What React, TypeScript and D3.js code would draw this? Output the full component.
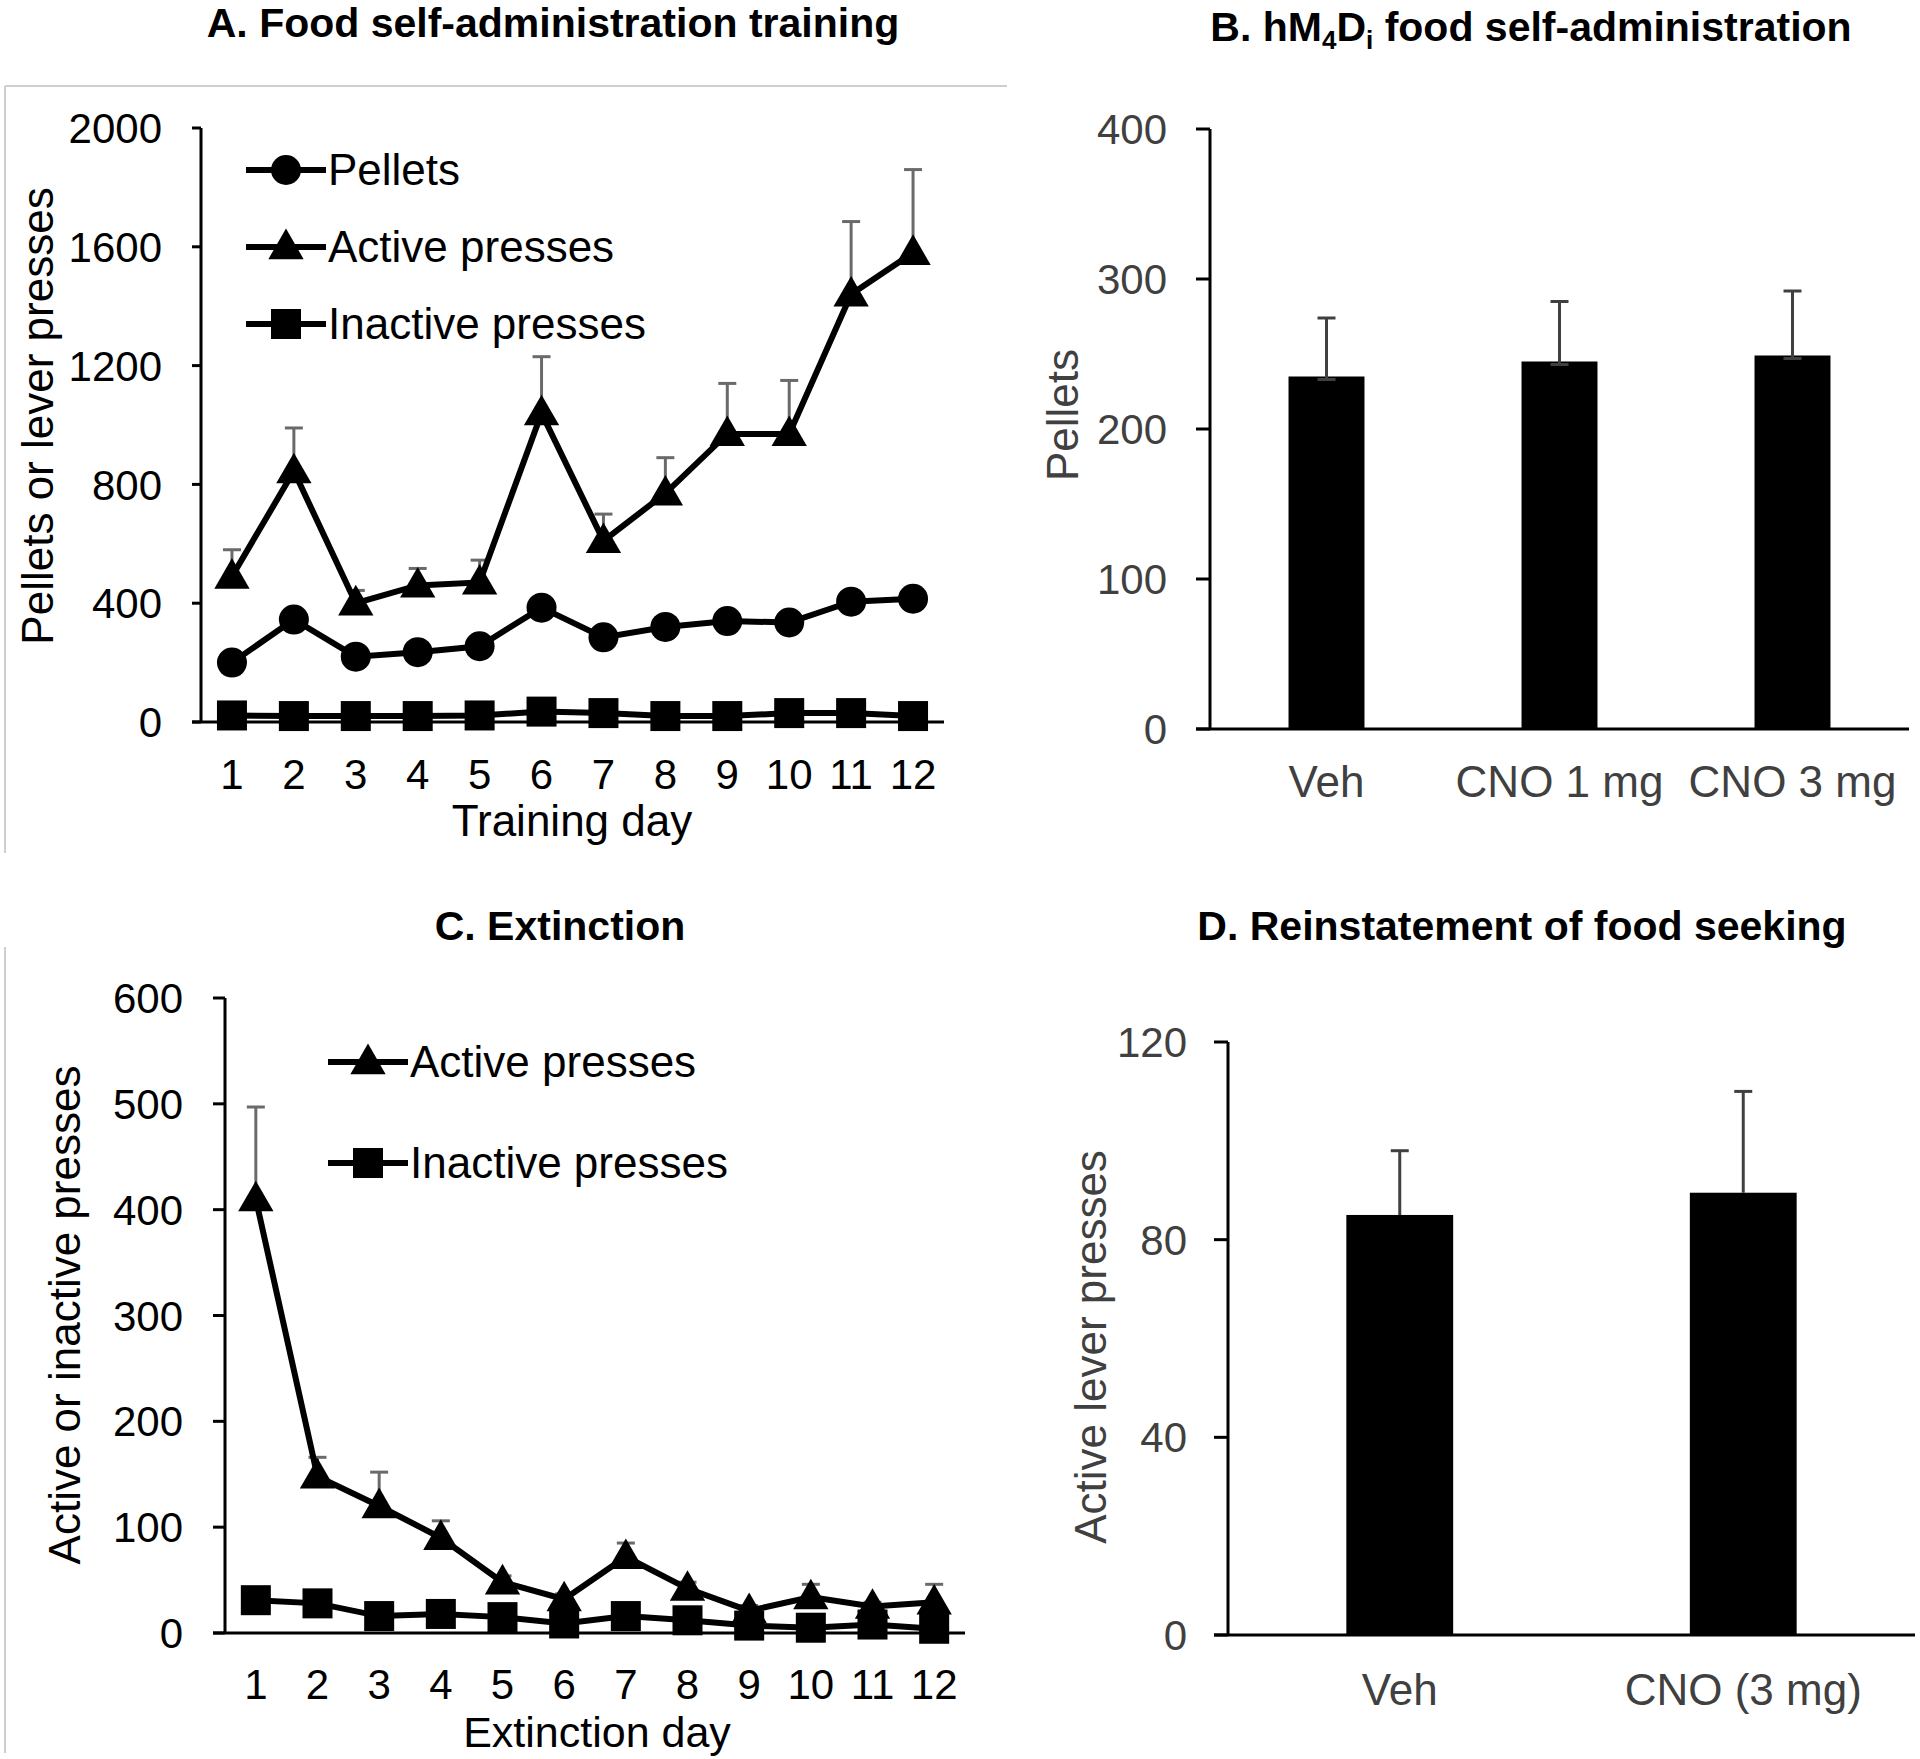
import React from "react";
import * as d3 from "d3";

// ---------- data ----------
const days = [1, 2, 3, 4, 5, 6, 7, 8, 9, 10, 11, 12];
const trainPellets = [200, 345, 220, 235, 255, 385, 285, 320, 340, 335, 405, 415];
const trainActive = [490, 845, 400, 460, 470, 1040, 610, 770, 970, 970, 1440, 1580];
const trainActiveErr = [90, 145, 43, 57, 75, 190, 90, 120, 170, 180, 245, 280];
const trainInactive = [22, 20, 20, 20, 22, 35, 30, 20, 20, 30, 30, 20];
const trainTicks = [0, 400, 800, 1200, 1600, 2000];

const extActive = [410, 148, 120, 90, 48, 32, 72, 42, 21, 34, 25, 29];
const extActiveErr = [87, 18, 32, 16, 6, 5, 13, 6, 5, 12, 4, 17];
const extInactive = [31, 28, 16, 18, 15, 9, 16, 12, 7, 5, 8, 4];
const extTicks = [0, 100, 200, 300, 400, 500, 600];

const bCats = ["Veh", "CNO 1 mg", "CNO 3 mg"];
const bValues = [235, 245, 249];
const bErr = [39, 40, 43];
const bTicks = [0, 100, 200, 300, 400];

const dCats = ["Veh", "CNO (3 mg)"];
const dValues = [85, 89.5];
const dErr = [13, 20.5];
const dTicks = [0, 40, 80, 120];

const FONT = "'Liberation Sans', Arial, Helvetica, sans-serif";
const GRAY = "#404040";
const ERR = "#6a6a6a";

type Marker = "circle" | "triangle" | "square";

function MarkerShape({ type, x, y }: { type: Marker; x: number; y: number }) {
  if (type === "circle") return <circle cx={x} cy={y} r={15} fill="#000" />;
  if (type === "square") return <rect x={x - 15} y={y - 15} width={30} height={30} fill="#000" />;
  const p = d3.symbol().type(d3.symbolTriangle).size(540)();
  return <path d={p || ""} transform={`translate(${x},${y + 2})`} fill="#000" />;
}

function LineSeries({
  xs, values, y, marker, err,
}: {
  xs: (d: number) => number;
  values: number[];
  y: d3.ScaleLinear<number, number>;
  marker: Marker;
  err?: number[];
}) {
  const line = d3
    .line<number>()
    .x((_, i) => xs(days[i]))
    .y((d) => y(d));
  return (
    <g>
      {err &&
        values.map((v, i) => {
          const x = xs(days[i]);
          const top = y(v + err[i]);
          return (
            <g key={"e" + i} stroke={ERR} strokeWidth={3}>
              <line x1={x} x2={x} y1={y(v)} y2={top} />
              <line x1={x - 9} x2={x + 9} y1={top} y2={top} />
            </g>
          );
        })}
      <path d={line(values) || ""} fill="none" stroke="#000" strokeWidth={6} strokeLinejoin="miter" />
      {values.map((v, i) => (
        <MarkerShape key={i} type={marker} x={xs(days[i])} y={y(v)} />
      ))}
    </g>
  );
}

function LegendRow({ x, y, marker, label }: { x: number; y: number; marker: Marker; label: string }) {
  return (
    <g>
      <line x1={x} x2={x + 80} y1={y} y2={y} stroke="#000" strokeWidth={6} />
      <MarkerShape type={marker} x={x + 40} y={y} />
      <text x={x + 82} y={y} dy="0.35em" fontSize={44} fontFamily={FONT} fill="#000">
        {label}
      </text>
    </g>
  );
}

export default function App() {
  // ---------- Panel A ----------
  const aX0 = 201, aX1 = 944;
  const aY = d3.scaleLinear().domain([0, 2000]).range([722, 128]);
  const aXs = d3.scalePoint<number>().domain(days).range([aX0, aX1]).padding(0.5);
  const aXf = (d: number) => aXs(d) as number;

  // ---------- Panel C ----------
  const cX0 = 225, cX1 = 965;
  const cY = d3.scaleLinear().domain([0, 600]).range([1633, 998]);
  const cXs = d3.scalePoint<number>().domain(days).range([cX0, cX1]).padding(0.5);
  const cXf = (d: number) => cXs(d) as number;

  // ---------- Panel B ----------
  const bX0 = 1210, bX1 = 1909;
  const bY = d3.scaleLinear().domain([0, 400]).range([729, 129]);
  const bX = d3.scaleBand<string>().domain(bCats).range([bX0, bX1]).paddingInner(0.674).paddingOuter(0.337);

  // ---------- Panel D ----------
  const dX0 = 1228, dX1 = 1915;
  const dY = d3.scaleLinear().domain([0, 120]).range([1635, 1042]);
  const dX = d3.scaleBand<string>().domain(dCats).range([dX0, dX1]).paddingInner(0.689).paddingOuter(0.3445);

  const yAxis = (
    ticks: number[],
    scale: d3.ScaleLinear<number, number>,
    x: number,
    tickLen: number,
    labelRight: number,
    color: string
  ) => (
    <g>
      <line x1={x} x2={x} y1={scale(ticks[ticks.length - 1])} y2={scale(0)} stroke="#000" strokeWidth={3} />
      {ticks.map((t) => (
        <g key={t}>
          <line x1={x - tickLen} x2={x} y1={scale(t)} y2={scale(t)} stroke="#000" strokeWidth={3} />
          <text x={labelRight} y={scale(t)} dy="0.36em" textAnchor="end" fontSize={42} fontFamily={FONT} fill={color}>
            {t}
          </text>
        </g>
      ))}
    </g>
  );

  return (
    <svg
      width={1920}
      height={1759}
      viewBox="0 0 1920 1759"
      style={{ position: "absolute", left: 0, top: 0, background: "#fff" }}
    >
      <rect x={0} y={0} width={1920} height={1759} fill="#fff" />

      {/* panel frames */}
      <line x1={5} x2={1007} y1={86} y2={86} stroke="#cfcfcf" strokeWidth={2} />
      <line x1={5} x2={5} y1={86} y2={853} stroke="#cfcfcf" strokeWidth={2} />
      <line x1={5} x2={5} y1={947} y2={1753} stroke="#cfcfcf" strokeWidth={2} />

      {/* Titles */}
      <text x={553} y={37} textAnchor="middle" fontSize={41} fontWeight="bold" fontFamily={FONT}>
        A. Food self-administration training
      </text>
      <text x={1531} y={41} textAnchor="middle" fontSize={41} fontWeight="bold" fontFamily={FONT}>
        B. hM
        <tspan fontSize={26} dy={8}>4</tspan>
        <tspan dy={-8}>D</tspan>
        <tspan fontSize={26} dy={8}>i</tspan>
        <tspan dy={-8}> food self-administration</tspan>
      </text>
      <text x={560} y={940} textAnchor="middle" fontSize={41} fontWeight="bold" fontFamily={FONT}>
        C. Extinction
      </text>
      <text x={1522} y={940} textAnchor="middle" fontSize={41} fontWeight="bold" fontFamily={FONT}>
        D. Reinstatement of food seeking
      </text>

      {/* ===== Panel A ===== */}
      {yAxis(trainTicks, aY, aX0, 9, 162, "#000")}
      <line x1={aX0 - 9} x2={aX1} y1={aY(0)} y2={aY(0)} stroke="#000" strokeWidth={3} />
      {days.map((d) => (
        <text key={d} x={aXf(d)} y={789} textAnchor="middle" fontSize={42} fontFamily={FONT}>
          {d}
        </text>
      ))}
      <text x={572} y={836} textAnchor="middle" fontSize={44} fontFamily={FONT}>
        Training day
      </text>
      <text transform="translate(53,416) rotate(-90)" textAnchor="middle" fontSize={44} fontFamily={FONT}>
        Pellets or lever presses
      </text>
      <LineSeries xs={aXf} values={trainInactive} y={aY} marker="square" />
      <LineSeries xs={aXf} values={trainPellets} y={aY} marker="circle" />
      <LineSeries xs={aXf} values={trainActive} y={aY} marker="triangle" err={trainActiveErr} />
      <LegendRow x={246} y={170} marker="circle" label="Pellets" />
      <LegendRow x={246} y={247} marker="triangle" label="Active presses" />
      <LegendRow x={246} y={324} marker="square" label="Inactive presses" />

      {/* ===== Panel C ===== */}
      {yAxis(extTicks, cY, cX0, 12, 183, "#000")}
      <line x1={cX0 - 12} x2={cX1} y1={cY(0)} y2={cY(0)} stroke="#000" strokeWidth={3} />
      {days.map((d) => (
        <text key={d} x={cXf(d)} y={1699} textAnchor="middle" fontSize={42} fontFamily={FONT}>
          {d}
        </text>
      ))}
      <text x={597} y={1747} textAnchor="middle" fontSize={43} fontFamily={FONT}>
        Extinction day
      </text>
      <text transform="translate(80,1315) rotate(-90)" textAnchor="middle" fontSize={44} fontFamily={FONT}>
        Active or inactive presses
      </text>
      <LineSeries xs={cXf} values={extInactive} y={cY} marker="square" />
      <LineSeries xs={cXf} values={extActive} y={cY} marker="triangle" err={extActiveErr} />
      <LegendRow x={328} y={1062} marker="triangle" label="Active presses" />
      <LegendRow x={328} y={1163} marker="square" label="Inactive presses" />

      {/* ===== Panel B ===== */}
      {bCats.map((c, i) => {
        const x = bX(c) as number;
        const w = bX.bandwidth();
        const cx = x + w / 2;
        const top = bY(bValues[i] + bErr[i]);
        return (
          <g key={c}>
            <rect x={x} y={bY(bValues[i])} width={w} height={bY(0) - bY(bValues[i])} fill="#000" />
            <g stroke={GRAY} strokeWidth={3}>
              <line x1={cx} x2={cx} y1={bY(bValues[i]) + 3} y2={top} />
              <line x1={cx - 9} x2={cx + 9} y1={top} y2={top} />
              <line x1={cx - 9} x2={cx + 9} y1={bY(bValues[i]) + 3} y2={bY(bValues[i]) + 3} />
            </g>
            <text x={cx} y={797} textAnchor="middle" fontSize={44} fontFamily={FONT} fill={GRAY}>
              {c}
            </text>
          </g>
        );
      })}
      {yAxis(bTicks, bY, bX0, 14, 1167, GRAY)}
      <line x1={bX0 - 14} x2={bX1} y1={bY(0)} y2={bY(0)} stroke="#000" strokeWidth={3} />
      <text transform="translate(1078,415) rotate(-90)" textAnchor="middle" fontSize={44} fontFamily={FONT} fill={GRAY}>
        Pellets
      </text>

      {/* ===== Panel D ===== */}
      {dCats.map((c, i) => {
        const x = dX(c) as number;
        const w = dX.bandwidth();
        const cx = x + w / 2;
        const top = dY(dValues[i] + dErr[i]);
        return (
          <g key={c}>
            <g stroke={GRAY} strokeWidth={3}>
              <line x1={cx} x2={cx} y1={dY(dValues[i])} y2={top} />
              <line x1={cx - 9} x2={cx + 9} y1={top} y2={top} />
            </g>
            <rect x={x} y={dY(dValues[i])} width={w} height={dY(0) - dY(dValues[i])} fill="#000" />
            <text x={cx} y={1705} textAnchor="middle" fontSize={44} fontFamily={FONT} fill={GRAY}>
              {c}
            </text>
          </g>
        );
      })}
      {yAxis(dTicks, dY, dX0, 14, 1187, GRAY)}
      <line x1={dX0 - 14} x2={dX1} y1={dY(0)} y2={dY(0)} stroke="#000" strokeWidth={3} />
      <text transform="translate(1106,1347) rotate(-90)" textAnchor="middle" fontSize={44} fontFamily={FONT} fill={GRAY}>
        Active lever presses
      </text>
    </svg>
  );
}
